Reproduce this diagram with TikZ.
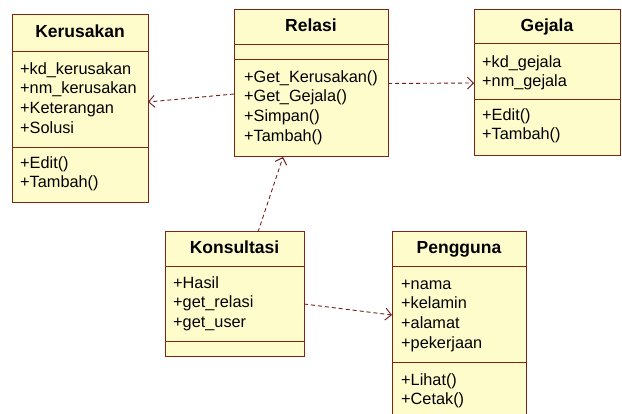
\documentclass[tikz,border=0pt]{standalone}
\usepackage{fontspec}
\setmainfont{Liberation Sans}
\usetikzlibrary{arrows.meta}
\definecolor{clsfill}{RGB}{255,252,204}
\definecolor{clsborder}{RGB}{128,36,20}
\definecolor{dep}{RGB}{110,30,30}
\tikzset{
  cls/.style={draw=clsborder, fill=clsfill, line width=1pt, inner sep=0pt, outer sep=0pt},
  clsline/.style={draw=clsborder, line width=1pt},
  clstitle/.style={font=\fontsize{17.5}{20}\selectfont\bfseries, inner sep=0pt, text height=12pt, text depth=3.5pt},
  row/.style={anchor=west, font=\fontsize{16.3}{19}\selectfont, inner sep=0pt, text height=12pt, text depth=3.5pt},
  depend/.style={draw=dep, line width=0.9pt, dash pattern=on 4pt off 3pt, -{Straight Barb[length=6pt,width=12pt,line width=0.9pt]}}
}
\newcommand\umlclass[8]{%
  \node[cls, minimum width={#4-#2}, minimum height={#5-#3}] (#1) at ({(#2+#4)/2},{(#3+#5)/2}) {};
  \draw[clsline] (#2,#6) -- (#4,#6) (#2,#7) -- (#4,#7);
  \node[clstitle] (#1-t) at ({(#2+#4)/2},{(#3+#6)/2}) {#8};}
\newcommand\umlrows[4]{%
  \foreach \t [count=\i] in {#4} \node[row] (#1\i) at (#2,{#3+19.6*(\i-1)}) {\t};}
\begin{document}
\begin{tikzpicture}[x=1pt,y=-1pt]
\useasboundingbox[fill=white] (0,0) rectangle (622,414);
% Kerusakan
\umlclass{kerusakan}{12}{15}{148}{203}{52}{148}{Kerusakan}
\umlrows{ka}{20}{70}{+kd\_kerusakan,+nm\_kerusakan,+Keterangan,+Solusi}
\umlrows{km}{20}{164}{+Edit(),+Tambah()}
% Relasi
\umlclass{relasi}{234}{10}{388}{157}{45}{60}{Relasi}
\umlrows{rm}{244}{78}{+Get\_Kerusakan(),+Get\_Gejala(),+Simpan(),+Tambah()}
% Gejala
\umlclass{gejala}{474}{10}{620}{156}{44}{100}{Gejala}
\umlrows{ga}{482}{63}{+kd\_gejala,+nm\_gejala}
\umlrows{gm}{482}{116}{+Edit(),+Tambah()}
% Konsultasi
\umlclass{konsultasi}{165}{232}{304}{357}{267}{342}{Konsultasi}
\umlrows{ca}{173}{284}{+Hasil,+get\_relasi,+get\_user}
% Pengguna
\umlclass{pengguna}{392}{232}{526}{420}{267}{363}{Pengguna}
\umlrows{pa}{401}{285}{+nama,+kelamin,+alamat,+pekerjaan}
\umlrows{pm}{401}{381}{+Lihat(),+Cetak()}
% connectors
\draw[depend] ([yshift=-10.5pt]relasi.west) -- ([yshift=7pt]kerusakan.east);
\draw[depend] (relasi.east) -- (gejala.west);
\draw[depend] ([xshift=23.5pt]konsultasi.north) -- ([xshift=-28pt]relasi.south);
\draw[depend] ([yshift=-9.5pt]konsultasi.east) -- ([yshift=11pt]pengguna.west);
\end{tikzpicture}
\end{document}
